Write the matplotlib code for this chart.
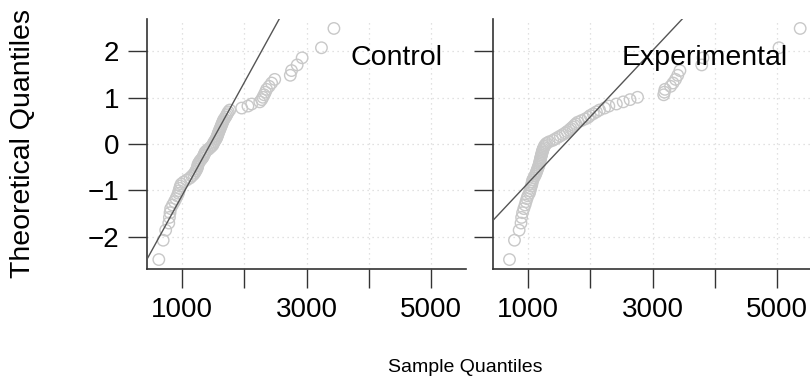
import numpy as np
import matplotlib.pyplot as plt
from statistics import NormalDist

plt.rcParams['font.family'] = ['Liberation Sans', 'DejaVu Sans']

# sample values (sorted)
control = [630, 700, 740, 790, 800, 810, 820, 850, 880, 905,
           925, 945, 955, 965, 975, 990, 1030, 1080, 1130, 1160,
           1190, 1210, 1225, 1240, 1250, 1255, 1260, 1275, 1290, 1310,
           1330, 1345, 1355, 1365, 1375, 1400, 1430, 1455, 1480, 1500,
           1505, 1520, 1535, 1550, 1560, 1570, 1578, 1585, 1595, 1605,
           1615, 1625, 1635, 1645, 1655, 1665, 1680, 1700, 1715, 1730,
           1745, 1770, 1960, 2060, 2120, 2250, 2280, 2300, 2320, 2340,
           2360, 2400, 2440, 2490, 2740, 2760, 2850, 2930, 3240, 3440]
experimental = [705, 785, 860, 890, 900, 915, 935, 955, 970, 985,
                1000, 1025, 1035, 1045, 1055, 1065, 1070, 1078, 1095, 1110,
                1125, 1135, 1145, 1155, 1165, 1175, 1182, 1188, 1195, 1200,
                1205, 1212, 1218, 1225, 1230, 1237, 1245, 1255, 1265, 1280,
                1300, 1340, 1400, 1440, 1480, 1520, 1560, 1600, 1630, 1665,
                1690, 1720, 1745, 1770, 1800, 1860, 1920, 1970, 2000, 2050,
                2100, 2150, 2230, 2300, 2420, 2530, 2640, 2760, 3180, 3190,
                3200, 3290, 3330, 3370, 3405, 3440, 3790, 3810, 5030, 5370]
groups = ['Control', 'Experimental']
x_ticks = [1000, 2000, 3000, 4000, 5000]
x_labels = ['1000', '', '3000', '', '5000']
y_ticks = [-2, -1, 0, 1, 2]
y_labels = ['\u22122', '\u22121', '0', '1', '2']


def theo(n):
    return np.array([NormalDist().inv_cdf((i - 0.5) / n) for i in range(1, n + 1)])


datas = [np.sort(control), np.sort(experimental)]
allx = np.concatenate(datas)
xr = allx.max() - allx.min()
xlim = (allx.min() - 0.04 * xr, allx.max() + 0.04 * xr)
ymax = max(abs(theo(len(d))).max() for d in datas)
ylim = (-ymax * 1.08, ymax * 1.08)

fig = plt.figure(figsize=(8.1, 3.84), dpi=100)
lefts = [147 / 810, 493 / 810]
for k, (name, d) in enumerate(zip(groups, datas)):
    ax = fig.add_axes([lefts[k], 0.300, 319 / 810, 0.650])
    q = theo(len(d))
    ax.scatter(d, q, s=68, facecolors='none', edgecolors='#c8c8c8', linewidths=1.0, zorder=2)
    # qqline through the quartiles
    x1, x3 = np.percentile(d, [25, 75])
    z1, z3 = NormalDist().inv_cdf(0.25), NormalDist().inv_cdf(0.75)
    slope = (z3 - z1) / (x3 - x1)
    xx = np.array(xlim)
    ax.plot(xx, z1 + slope * (xx - x1), color='#555555', lw=1.0, zorder=3)
    ax.set_xlim(xlim)
    ax.set_ylim(ylim)
    ax.set_xticks(x_ticks)
    ax.set_xticklabels(x_labels)
    ax.set_yticks(y_ticks)
    if k == 0:
        ax.set_yticklabels(y_labels)
    else:
        ax.set_yticklabels([])
    ax.grid(True, color='#d8d8d8', linestyle=(0, (1, 3)), lw=0.9)
    ax.set_axisbelow(True)
    for s in ['top', 'right']:
        ax.spines[s].set_visible(False)
    for s in ['left', 'bottom']:
        ax.spines[s].set_color('#333333')
        ax.spines[s].set_linewidth(1.2)
    ax.tick_params(direction='out', length=14, width=1.0, color='#333333',
                   labelsize=20, pad=6)
    ax.text(0.925, 0.843, name, transform=ax.transAxes, ha='right', va='center',
            fontsize=20.5, zorder=4)

fig.text(23 / 810, 1 - 144 / 384, 'Theoretical Quantiles', rotation=90,
         ha='center', va='center', fontsize=20.5)
fig.text(465 / 810, 1 - 368 / 384, 'Sample Quantiles', ha='center', va='center',
         fontsize=14)

fig.savefig('out.png', dpi=100)
